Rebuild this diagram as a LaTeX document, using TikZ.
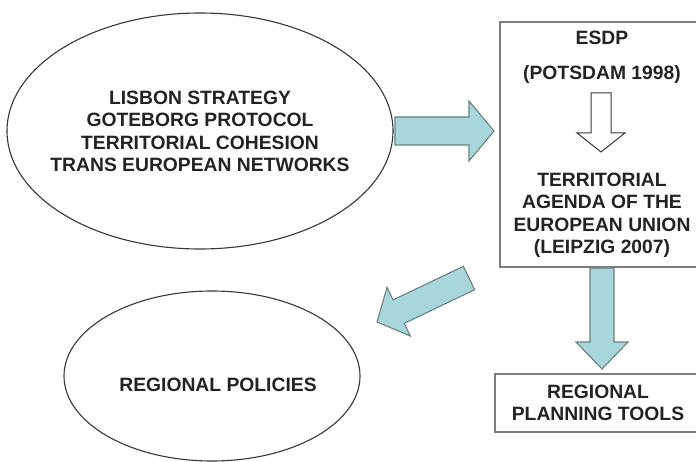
\documentclass[tikz,border=0pt]{standalone}
\usepackage{fontspec}
\setmainfont{Liberation Sans}
\usetikzlibrary{calc,shapes.geometric}

\definecolor{arrowfill}{RGB}{167,215,218}
\definecolor{arrowedge}{RGB}{105,128,132}
\definecolor{boxedge}{RGB}{125,125,125}
\definecolor{inkline}{RGB}{55,55,55}
\definecolor{inktext}{RGB}{35,35,35}

% Block arrow: [style]{tail}{tip}{shaft half width}{head half width}{head length}
\newcommand\blockarrow[6][]{%
  \coordinate (bahead) at ($(#3)!#6!(#2)$);
  \draw[#1] ($(#2)!#4!90:(#3)$) -- ($(bahead)!#4!90:(#3)$)
    -- ($(bahead)!#5!90:(#3)$) -- (#3) -- ($(bahead)!#5!-90:(#3)$)
    -- ($(bahead)!#4!-90:(#3)$) -- ($(#2)!#4!-90:(#3)$) -- cycle;}

\begin{document}
\begin{tikzpicture}[x=1pt,y=-1pt,
  every node/.style={font=\fontsize{19.3}{22.3}\selectfont\bfseries, text=inktext},
  bubble/.style={ellipse, draw=inkline, line width=1.1pt, inner sep=0pt},
  frame/.style={rectangle, draw=boxedge, line width=1.3pt, inner sep=0pt, align=center},
  flow/.style={fill=arrowfill, draw=arrowedge, line width=1.1pt, line join=miter},
  hollow/.style={fill=white, draw=inkline, line width=1pt}]
\useasboundingbox (0,0) rectangle (696,462);
\fill[white] (0,0) rectangle (696,462);

% Policy frameworks
\node[bubble, minimum width=386pt, minimum height=236pt] (goals) at (200,131) {};
\node[align=center] (goalstext) at (200,131.5)
  {LISBON STRATEGY\\GOTEBORG PROTOCOL\\TERRITORIAL COHESION\\TRANS EUROPEAN NETWORKS};

% ESDP / Territorial Agenda box
\node[frame, minimum width=204pt, minimum height=245pt] (esdp) at (602,144.5) {};
\node (esdptitle) at (602,38) {ESDP};
\node (potsdam) at (602,75) {(POTSDAM 1998)};
\node[align=center, anchor=north, inner sep=0pt] (agenda) at (602,173)
  {TERRITORIAL\\AGENDA OF THE\\EUROPEAN UNION\\(LEIPZIG 2007)};

% Outcomes
\node[frame, minimum width=206pt, minimum height=58pt] (tools) at (598,403)
  {REGIONAL\\PLANNING TOOLS};
\node[bubble, minimum width=296pt, minimum height=170pt] (policies) at (212,376) {};
\node (policieslabel) at (218,384.5) {REGIONAL POLICIES};

% Arrow end points
\coordinate (a1s) at (395,131);
\coordinate (a1e) at (494,131);
\coordinate (a2s) at (469,278);
\coordinate (a2e) at (377,322);
\coordinate (a3s) at (602,268);
\coordinate (a3e) at (602,369);
\coordinate (hs) at (601,93);
\coordinate (he) at (601,152);

\blockarrow[flow]{a1s}{a1e}{14pt}{30pt}{25pt}
\blockarrow[flow]{a2s}{a2e}{13pt}{27pt}{24pt}
\blockarrow[flow]{a3s}{a3e}{12pt}{26pt}{27pt}
\blockarrow[hollow]{hs}{he}{10pt}{24pt}{19pt}
\end{tikzpicture}
\end{document}
